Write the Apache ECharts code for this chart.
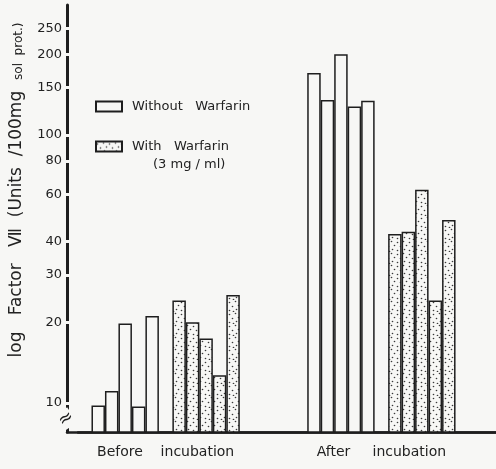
<!DOCTYPE html>
<html><head><meta charset="utf-8">
<script src="https://cdn.jsdelivr.net/npm/echarts@6/dist/echarts.min.js"></script>
<style>html,body{margin:0;padding:0;background:#f7f7f5}#c{width:496px;height:469px}</style>
</head><body><div id="c"></div>
<script>
// ---- data ----
const groupLabels = ['Before    incubation', 'After     incubation'];
const seriesNames = ['Without   Warfarin', 'With   Warfarin'];
const withoutBefore = [9.8, 11.1, 19.8, 9.7, 21.1];
const withBefore = [24.1, 20.0, 17.4, 12.7, 25.3];
const withoutAfter = [170, 135, 200, 127.5, 134];
const withAfter = [42.7, 43.5, 62.4, 24.1, 48.2];
const yTicks = [10, 20, 30, 40, 60, 80, 100, 150, 200, 250];
const yMin = 7.8, yMax = 305;
const doseNote = '(3 mg / ml)';
const yTitleMain = 'log   Factor   Ⅶ  (Units  /100mg  ';
const yTitleSmall = 'sol  prot.)';

// ---- styling / layout ----
const BG = '#f7f7f5', INK = '#1e1e1e';
const FONT = 'DejaVu Sans';
const L = Math.log10;

// stipple pattern
const pc = document.createElement('canvas'); pc.width = 12; pc.height = 12;
const pctx = pc.getContext('2d');
pctx.fillStyle = BG; pctx.fillRect(0, 0, 12, 12);
pctx.fillStyle = '#3a3a3a';
[[1,2],[7,1],[10,5],[4,6],[8,9],[1,10],[5,11]].forEach(([x, y]) => {
  pctx.beginPath(); pctx.arc(x + 0.5, y + 0.5, 0.8, 0, Math.PI * 2); pctx.fill();
});
const dotted = { image: pc, repeat: 'repeat' };

// slots along the category axis
const lead = 1, innerGap = 1, groupGap = 5, trail = 3;
const groupsData = [[withoutBefore, withBefore], [withoutAfter, withAfter]];
const cats = [], sWithout = [], sWith = [];
function pushSlot(label, a, b) { cats.push(label); sWithout.push(a); sWith.push(b); }
for (let i = 0; i < lead; i++) pushSlot('', null, null);
groupsData.forEach((g, gi) => {
  const start = cats.length;
  g[0].forEach(v => pushSlot('', L(v), null));
  for (let i = 0; i < innerGap; i++) pushSlot('', null, null);
  g[1].forEach(v => pushSlot('', null, L(v)));
  cats[start + g[0].length] = groupLabels[gi];
  if (gi < groupsData.length - 1) for (let i = 0; i < groupGap; i++) pushSlot('', null, null);
});
for (let i = 0; i < trail; i++) pushSlot('', null, null);

const tickVals = yTicks.map(L);
const gapTick = (inside) => ({
  show: true, inside: inside, length: 4,
  customValues: tickVals,
  lineStyle: { color: BG, width: 3 }
});

const chart = echarts.init(document.getElementById('c'), null, { renderer: 'canvas' });
chart.setOption({
  backgroundColor: BG,
  animation: false,
  textStyle: { fontFamily: FONT },
  grid: [
    { left: 78, right: 0, top: 5, bottom: 37 },
    { left: 67, right: 0, top: 5, bottom: 37 }
  ],
  legend: {
    orient: 'vertical', left: 95, top: 100, itemGap: 27, padding: 0,
    itemWidth: 26, itemHeight: 10, icon: 'rect',
    textStyle: { fontFamily: FONT, fontSize: 13, color: '#222', padding: [0, 0, 0, 5] },
    data: seriesNames
  },
  xAxis: [
    {
      type: 'category', gridIndex: 0, data: cats, boundaryGap: true,
      axisLine: { lineStyle: { color: INK, width: 2.5 } },
      axisTick: { show: false },
      axisLabel: { interval: 0, margin: 13, fontSize: 14, color: '#222', fontFamily: FONT }
    },
    {
      type: 'value', gridIndex: 1,
      axisLine: { show: true, onZero: false, lineStyle: { color: INK, width: 2.5 } },
      axisTick: { show: false }, axisLabel: { show: false }, splitLine: { show: false }
    }
  ],
  yAxis: [
    {
      type: 'value', gridIndex: 0, position: 'left', offset: 11,
      min: L(yMin), max: L(yMax),
      axisLine: { show: true, lineStyle: { color: INK, width: 3 } },
      axisTick: gapTick(false),
      axisLabel: {
        customValues: tickVals, margin: 5, fontSize: 13, color: '#222', fontFamily: FONT,
        formatter: v => String(Math.round(Math.pow(10, v)))
      },
      splitLine: { show: false }
    },
    {
      type: 'value', gridIndex: 0, position: 'left', offset: 11,
      min: L(yMin), max: L(yMax),
      axisLine: { show: false },
      axisTick: gapTick(true),
      axisLabel: { show: false },
      splitLine: { show: false }
    },
    { type: 'value', gridIndex: 1, show: false }
  ],
  series: [
    {
      name: seriesNames[0], type: 'bar', xAxisIndex: 0, yAxisIndex: 0,
      data: sWithout, barGap: '-100%', barCategoryGap: '0%',
      itemStyle: { color: BG, borderColor: INK, borderWidth: 1.5 }
    },
    {
      name: seriesNames[1], type: 'bar', xAxisIndex: 0, yAxisIndex: 0,
      data: sWith, barGap: '-100%', barCategoryGap: '0%',
      itemStyle: { color: dotted, borderColor: INK, borderWidth: 1.5 }
    }
  ],
  graphic: [
    {
      type: 'text', x: 17, y: 190, rotation: Math.PI / 2, z: 100,
      style: {
        text: '{a|' + yTitleMain + '}{b|' + yTitleSmall + '}',
        align: 'center', verticalAlign: 'middle', fill: '#222',
        rich: {
          a: { fontSize: 17, fontFamily: FONT, fill: '#222' },
          b: { fontSize: 12, fontFamily: FONT, fill: '#222', padding: [4, 0, 0, 0] }
        }
      }
    },
    {
      type: 'text', left: 153, top: 158, z: 100,
      style: { text: doseNote, fontSize: 13, fontFamily: FONT, fill: '#222' }
    },
    {
      type: 'text', x: 66, y: 419, rotation: 0.6, z: 100,
      style: { text: '≈', fontSize: 18, fontFamily: FONT, fill: INK,
        align: 'center', verticalAlign: 'middle', backgroundColor: BG }
    }
  ]
});
</script></body></html>
